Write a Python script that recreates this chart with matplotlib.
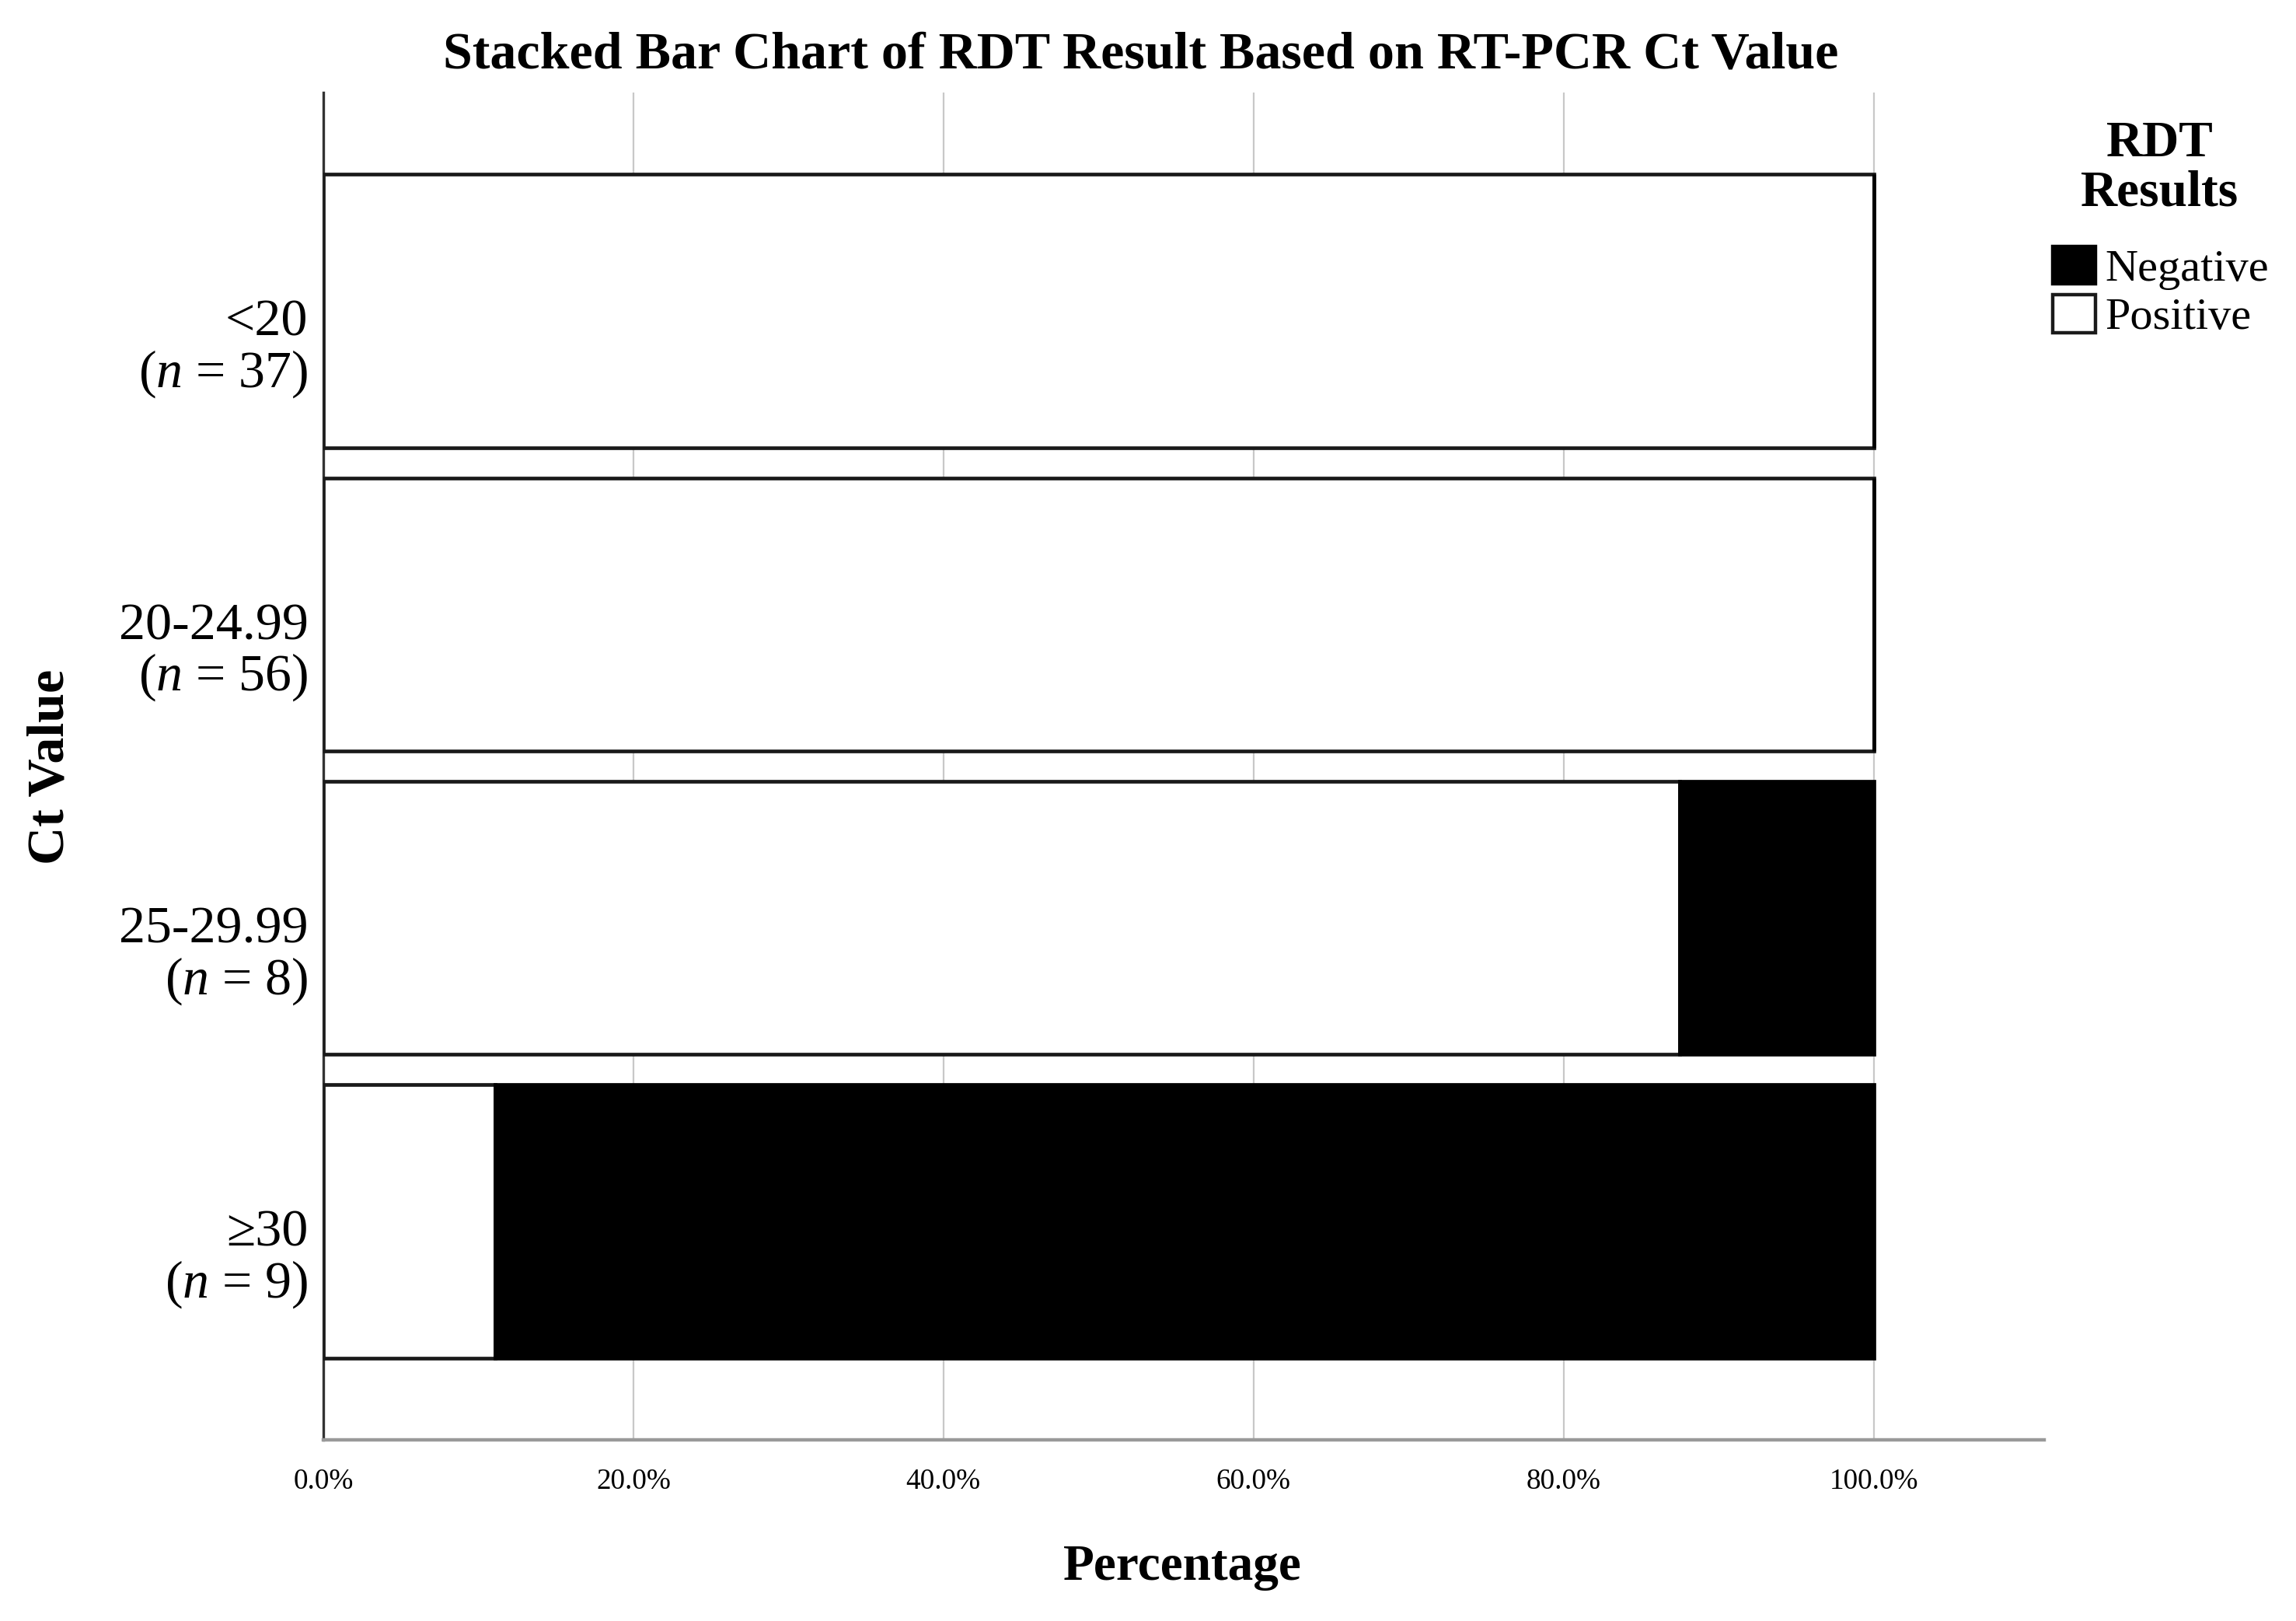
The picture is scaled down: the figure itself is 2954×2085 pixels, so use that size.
import numpy as np
import matplotlib
matplotlib.use("Agg")
import matplotlib.pyplot as plt
from matplotlib.transforms import ScaledTranslation
from matplotlib.patches import Patch

plt.rcParams["font.family"] = ["Liberation Serif", "DejaVu Serif"]
plt.rcParams["mathtext.fontset"] = "custom"
plt.rcParams["mathtext.rm"] = "Liberation Serif"
plt.rcParams["mathtext.it"] = "Liberation Serif:italic"

# data (percent of each Ct group)
ct_groups = ["<20", "20-24.99", "25-29.99", "\u226530"]
group_n = [37, 56, 8, 9]
positive_pct = [100.0, 100.0, 87.5, 11.1]
negative_pct = [0.0, 0.0, 12.5, 88.9]
x_ticks = [0, 20, 40, 60, 80, 100]

fig = plt.figure(figsize=(14.77, 10.425), dpi=200)
ax = fig.add_axes([0.1408, 0.1118, 0.7495, 0.8311])

y = np.arange(len(ct_groups))
ax.barh(y, positive_pct, height=0.9, color="white", edgecolor="#1a1a1a", linewidth=1.7, zorder=3)
ax.barh(y, negative_pct, left=positive_pct, height=0.9, color="black", edgecolor="black", linewidth=1.7, zorder=3)

ax.set_xlim(0, 111)
ax.set_ylim(3.72, -0.72)
ax.set_xticks(x_ticks)
ax.set_xticklabels(["%.1f%%" % v for v in x_ticks], fontsize=13.4)
ax.set_yticks(y)
ax.set_yticklabels([f"{g}\n($\\it{{n}}$ = {n})" for g, n in zip(ct_groups, group_n)],
                   fontsize=24.5, linespacing=1.05, ha="right", multialignment="right")
ax.tick_params(axis="both", length=0)
ax.tick_params(axis="x", pad=13)
ax.tick_params(axis="y", pad=7)
for lbl in ax.get_yticklabels():
    lbl.set_transform(lbl.get_transform() + ScaledTranslation(0, -0.2, fig.dpi_scale_trans))

ax.grid(axis="x", color="#c8c8c8", linewidth=0.8)
ax.set_axisbelow(True)
for s in ["top", "right"]:
    ax.spines[s].set_visible(False)
ax.spines["left"].set_color("#333333")
ax.spines["left"].set_linewidth(1.2)
ax.spines["bottom"].set_color("#999999")
ax.spines["bottom"].set_linewidth(1.6)

fig.text(0.497, 0.966, "Stacked Bar Chart of RDT Result Based on RT-PCR Ct Value",
         ha="center", va="center", fontsize=24.5, fontweight="bold")
fig.text(0.515, 0.033, "Percentage", ha="center", va="center", fontsize=23.5, fontweight="bold")
fig.text(0.022, 0.527, "Ct Value", ha="center", va="center", rotation=90, fontsize=24.5, fontweight="bold")

# legend title placed on its own
fig.text(0.9407, 0.896, "RDT\nResults", ha="center", va="center", fontsize=23.5,
         fontweight="bold", linespacing=1.07)
handles = [Patch(facecolor="black", edgecolor="black", linewidth=1.6),
           Patch(facecolor="white", edgecolor="#1a1a1a", linewidth=1.6)]
fig.legend(handles, ["Negative", "Positive"],
           loc="upper left", bbox_to_anchor=(0.894, 0.848), frameon=False,
           fontsize=21, handlelength=0.95, handleheight=0.9, handletextpad=0.2,
           labelspacing=0.1, borderpad=0.0, borderaxespad=0.0)

fig.savefig("out.png", dpi=200)
